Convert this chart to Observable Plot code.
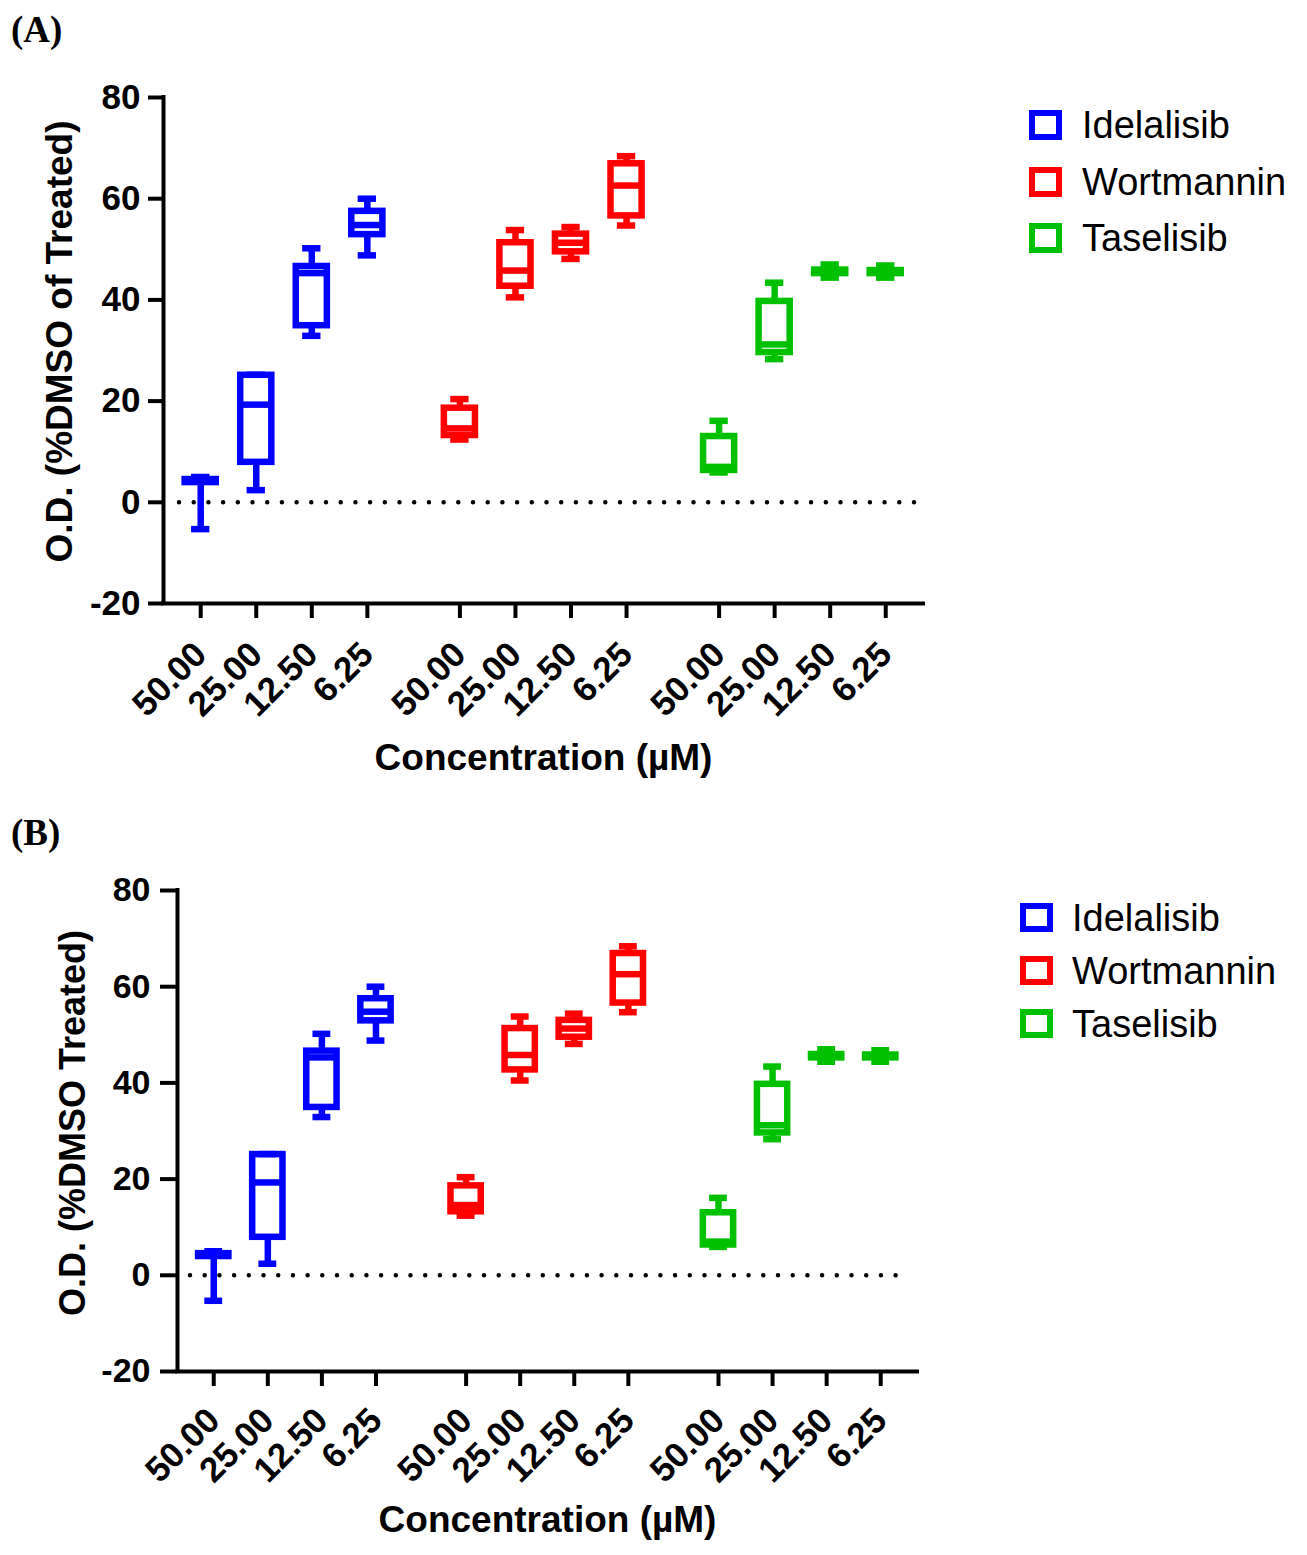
<!DOCTYPE html>
<html>
<head>
<meta charset="utf-8">
<script src="https://cdn.jsdelivr.net/npm/d3@7"></script>
<script src="https://cdn.jsdelivr.net/npm/@observablehq/plot@0.6"></script>
<style>
  body { margin: 0; background: #fff; }
  #page { position: relative; width: 1307px; height: 1555px; overflow: hidden; background: #fff;
          font-family: "Liberation Sans", Arial, sans-serif; }
  .panel { position: absolute; left: 0; }
  .tag { position: absolute; left: 11px; line-height: 1; font-family: "Liberation Serif", "Times New Roman", serif;
         font-weight: bold; font-size: 37px; color: #000; }
  .legend-item { position: absolute; display: flex; align-items: center; white-space: nowrap; }
  .legend-item .sw { box-sizing: border-box; border-style: solid; background: #fff; }
</style>
</head>
<body>
<div id="page"></div>
<script>
// Drugs, colours and the tested concentrations (µM)
const drugs = ["Idelalisib", "Wortmannin", "Taselisib"];
const drugColors = ["#0000ff", "#ff0000", "#00c000"];
const concentrations = ["50.00", "25.00", "12.50", "6.25"];

// One entry per box: drug, concentration and its five-number summary (O.D., % of DMSO)
const boxDrug = [
  "Idelalisib", "Idelalisib", "Idelalisib", "Idelalisib",
  "Wortmannin", "Wortmannin", "Wortmannin", "Wortmannin",
  "Taselisib", "Taselisib", "Taselisib", "Taselisib"
];
const boxConc = [
  "50.00", "25.00", "12.50", "6.25",
  "50.00", "25.00", "12.50", "6.25",
  "50.00", "25.00", "12.50", "6.25"
];
const whiskerLow  = [-5.3,  2.4, 32.9, 48.8,   12.4, 40.5, 48.1, 54.7,   5.9, 28.3, 44.4, 44.4];
const quartile1   = [ 3.9,  7.9, 34.9, 52.9,   13.2, 42.7, 49.5, 56.6,   6.3, 29.6, 45.2, 45.2];
const median      = [ 4.2, 19.3, 45.3, 54.8,   14.6, 45.8, 51.3, 62.6,   7.0, 31.2, 45.5, 45.5];
const quartile3   = [ 4.5, 25.1, 46.6, 57.5,   18.6, 51.3, 53.0, 66.9,  13.0, 39.7, 45.9, 45.8];
const whiskerHigh = [ 5.0, 25.2, 50.2, 60.0,   20.4, 53.8, 54.4, 68.4,  16.1, 43.4, 47.0, 46.8];

const yTicks = [-20, 0, 20, 40, 60, 80];

// x layout: four slots per drug, with a wider gap between drug groups
const groupStride = 4 + 2 / 3;
const xDomain = [-0.67, 2 * groupStride + 3 + 0.68];
const boxHalf = 0.28;
const capHalf = 0.165;

const rows = boxDrug.map((drug, i) => ({
  drug,
  conc: boxConc[i],
  pos: drugs.indexOf(drug) * groupStride + concentrations.indexOf(boxConc[i]),
  lo: whiskerLow[i], q1: quartile1[i], med: median[i], q3: quartile3[i], hi: whiskerHigh[i]
}));
const tickPositions = rows.map(d => d.pos);
const tickLabel = new Map(rows.map(d => [d.pos, d.conc]));

function boxPanel(o) {
  const sw = 6.5;
  return Plot.plot({
    width: 1307,
    height: o.height,
    marginLeft: o.marginLeft,
    marginRight: o.marginRight,
    marginTop: o.marginTop,
    marginBottom: o.marginBottom,
    style: { fontFamily: "'Liberation Sans', Arial, sans-serif", background: "transparent", overflow: "visible", color: "#000" },
    x: { domain: xDomain },
    y: { domain: [-20, 80] },
    color: { domain: drugs, range: drugColors },
    marks: [
      // dotted reference line at zero
      Plot.ruleY([0], { stroke: "#000", strokeWidth: 4.5, strokeDasharray: "0,14.7", strokeLinecap: "round",
                        insetLeft: o.dotInsetLeft, insetRight: o.dotInsetRight }),
      // whiskers
      Plot.ruleX(rows, { x: "pos", y1: "q3", y2: "hi", stroke: "drug", strokeWidth: sw }),
      Plot.ruleX(rows, { x: "pos", y1: "lo", y2: "q1", stroke: "drug", strokeWidth: sw }),
      // whisker caps
      Plot.ruleY(rows, { y: "hi", x1: d => d.pos - capHalf, x2: d => d.pos + capHalf, stroke: "drug", strokeWidth: sw }),
      Plot.ruleY(rows, { y: "lo", x1: d => d.pos - capHalf, x2: d => d.pos + capHalf, stroke: "drug", strokeWidth: sw }),
      // interquartile boxes and medians
      Plot.rect(rows, { x1: d => d.pos - boxHalf, x2: d => d.pos + boxHalf, y1: "q1", y2: "q3",
                        fill: "none", stroke: "drug", strokeWidth: sw }),
      Plot.ruleY(rows, { y: "med", x1: d => d.pos - boxHalf, x2: d => d.pos + boxHalf, stroke: "drug", strokeWidth: sw }),
      // axis lines
      Plot.ruleX([xDomain[0]], { stroke: "#000", strokeWidth: 4, strokeLinecap: "square" }),
      Plot.ruleY([-20], { stroke: "#000", strokeWidth: 4, strokeLinecap: "square" }),
      Plot.axisY({ ticks: yTicks, tickFormat: d => String(d), tickSize: o.yTickSize, tickPadding: o.yTickPadding,
                   strokeWidth: 4, fontSize: o.yTickFont, fontWeight: "bold", label: null }),
      Plot.axisX({ ticks: tickPositions, tickFormat: p => tickLabel.get(p), tickRotate: -45,
                   tickSize: 15, tickPadding: o.xTickPadding, strokeWidth: 4,
                   fontSize: 35, fontWeight: "bold", label: null }),
      // axis titles
      Plot.text([o.yLabel], { frameAnchor: "left", textAnchor: "middle", rotate: -90, dx: o.yTitleDx, dy: o.yTitleDy,
                              fontSize: o.yTitleSize, fontWeight: "bold", fill: "#000" }),
      Plot.text(["Concentration (µM)"], { frameAnchor: "bottom", dy: o.xTitleDy, lineAnchor: "middle",
                                          fontSize: 37, fontWeight: "bold", fill: "#000" })
    ]
  });
}

function addLegend(page, o) {
  drugs.forEach((name, i) => {
    const item = document.createElement("div");
    item.className = "legend-item";
    item.style.left = o.left + "px";
    item.style.top = (o.top + i * o.rowGap) + "px";
    item.style.height = o.boxH + "px";
    const sw = document.createElement("div");
    sw.className = "sw";
    sw.style.width = o.boxW + "px";
    sw.style.height = o.boxH + "px";
    sw.style.borderWidth = "6.5px";
    sw.style.borderColor = drugColors[i];
    const label = document.createElement("span");
    label.textContent = name;
    label.style.marginLeft = o.textGap + "px";
    label.style.fontSize = o.fontSize + "px";
    label.style.lineHeight = "1";
    item.appendChild(sw);
    item.appendChild(label);
    page.appendChild(item);
  });
}

function addTag(page, text, top) {
  const t = document.createElement("div");
  t.className = "tag";
  t.textContent = text;
  t.style.top = top + "px";
  page.appendChild(t);
}

const page = document.getElementById("page");

// Panel A
const a = boxPanel({
  height: 800, marginLeft: 163, marginRight: 384, marginTop: 97, marginBottom: 197,
  yTickSize: 15, yTickPadding: 8, yTickFont: 35, xTickPadding: 30,
  dotInsetLeft: 16, dotInsetRight: 7,
  yLabel: "O.D. (%DMSO of Treated)", yTitleDx: -103, yTitleDy: -9, yTitleSize: 37,
  xTitleDy: 155
});
const wrapA = document.createElement("div");
wrapA.className = "panel";
wrapA.style.top = "0px";
wrapA.appendChild(a);
page.appendChild(wrapA);
addTag(page, "(A)", 11);
addLegend(page, { left: 1029, top: 110, rowGap: 56.5, boxW: 33, boxH: 30, textGap: 20, fontSize: 38 });

// Panel B
const b = boxPanel({
  height: 755, marginLeft: 177, marginRight: 390, marginTop: 90, marginBottom: 184,
  yTickSize: 17, yTickPadding: 10, yTickFont: 34, xTickPadding: 28,
  dotInsetLeft: 13, dotInsetRight: 7,
  yLabel: "O.D. (%DMSO Treated)", yTitleDx: -104, yTitleDy: -8, yTitleSize: 36,
  xTitleDy: 149
});
const wrapB = document.createElement("div");
wrapB.className = "panel";
wrapB.style.top = "800px";
wrapB.appendChild(b);
page.appendChild(wrapB);
addTag(page, "(B)", 814);
addLegend(page, { left: 1020, top: 903, rowGap: 53, boxW: 33, boxH: 29, textGap: 19, fontSize: 38 });
</script>
</body>
</html>
